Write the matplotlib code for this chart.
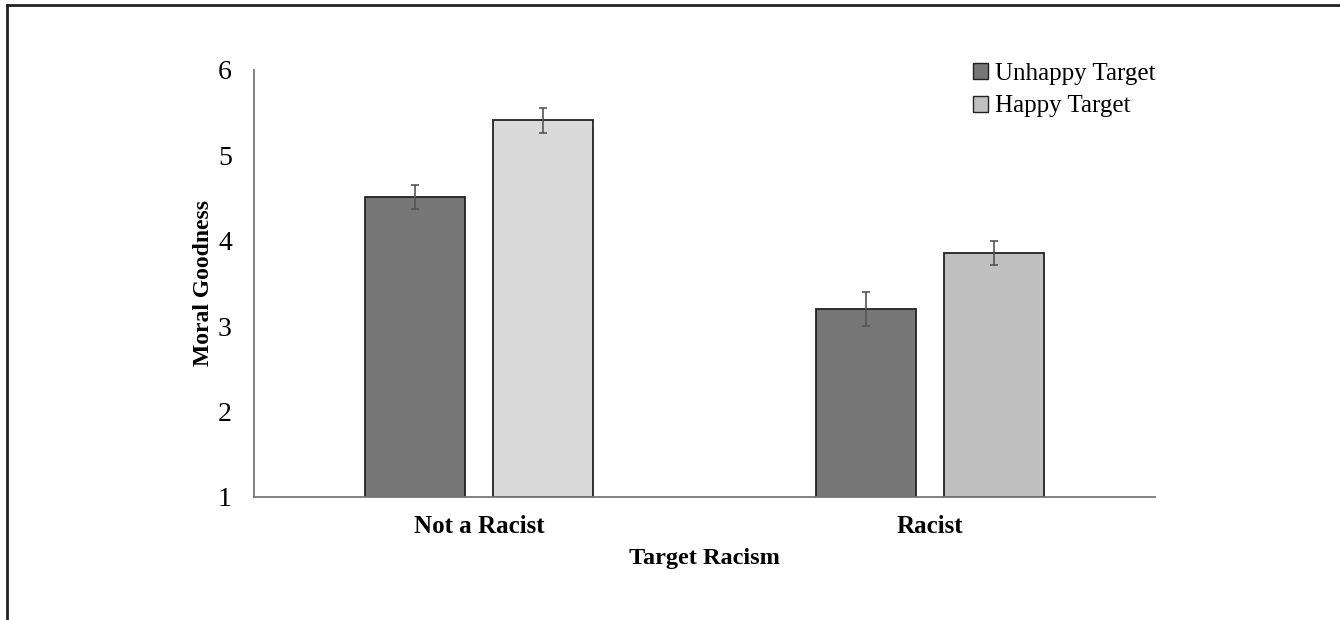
import matplotlib.pyplot as plt
from matplotlib.lines import Line2D
from matplotlib.patches import Patch
import numpy as np

categories = ["Not a Racist", "Racist"]
unhappy = [4.51, 3.20]
unhappy_err = [0.14, 0.20]
happy = [5.41, 3.86]
happy_err = [0.15, 0.14]
series_labels = ["Unhappy Target", "Happy Target"]
yticks = [1, 2, 3, 4, 5, 6]

plt.rcParams["font.family"] = ["Liberation Serif", "DejaVu Serif"]

fig = plt.figure(figsize=(13.4, 6.2), dpi=100)
ax = fig.add_axes([254 / 1340, 1 - 497 / 620, 901 / 1340, 427 / 620])

x = np.arange(len(categories))
w = 0.222
off = 0.142
unhappy_color = "#777777"
happy_colors = ["#dadada", "#c0c0c0"]

ax.bar(x - off, np.array(unhappy) - 1, w, bottom=1, color=unhappy_color,
       edgecolor="#222222", linewidth=1.3)
ax.bar(x + off, np.array(happy) - 1, w, bottom=1, color=happy_colors,
       edgecolor="#222222", linewidth=1.3)
ax.errorbar(x - off, unhappy, yerr=unhappy_err, fmt="none", ecolor="#555555",
            elinewidth=1.2, capsize=3, capthick=1.2)
ax.errorbar(x + off, happy, yerr=happy_err, fmt="none", ecolor="#555555",
            elinewidth=1.2, capsize=3, capthick=1.2)

ax.set_xlim(-0.5, 1.5)
ax.set_ylim(1, 6)
ax.set_yticks(yticks)
ax.set_xticks(x)
ax.set_xticklabels(categories, fontweight="bold", fontsize=18)
ax.tick_params(axis="y", length=0, labelsize=20, pad=16)
ax.tick_params(axis="x", length=0, pad=13)
for s in ["top", "right"]:
    ax.spines[s].set_visible(False)
for s in ["left", "bottom"]:
    ax.spines[s].set_color("#777777")
    ax.spines[s].set_linewidth(1.3)

ax.set_ylabel("Moral Goodness", fontweight="bold", fontsize=17, labelpad=2.5)
ax.set_xlabel("Target Racism", fontweight="bold", fontsize=17.5, labelpad=7)

handles = [Patch(facecolor=unhappy_color, edgecolor="#222222"),
           Patch(facecolor=happy_colors[1], edgecolor="#222222")]
ax.legend(handles, series_labels, loc="upper right", frameon=False, fontsize=18,
          handlelength=0.6, handleheight=0.6, handletextpad=0.3,
          labelspacing=0.42, bbox_to_anchor=(1.012, 1.04), borderaxespad=0)

# frame lines along top and left of the figure
fig.add_artist(Line2D([7 / 1340, 7 / 1340], [0, 1 - 5 / 620], color="#222222", lw=2))
fig.add_artist(Line2D([7 / 1340, 1], [1 - 5 / 620, 1 - 5 / 620], color="#222222", lw=2))

fig.savefig("out.png", dpi=100)
